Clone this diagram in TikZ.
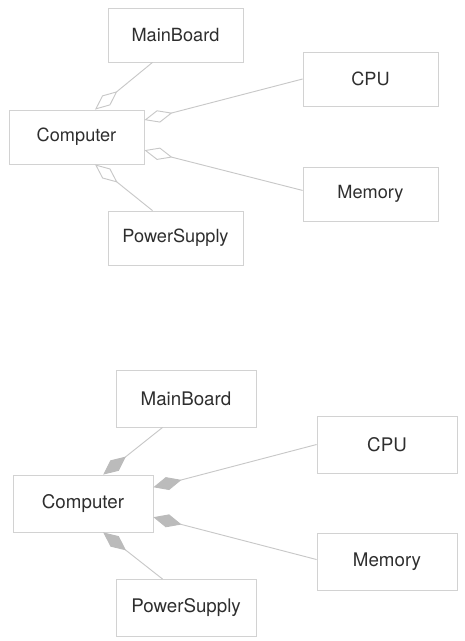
\documentclass[tikz,border=0pt]{standalone}
\usepackage{fontspec}
\setmainfont{TeX Gyre Heros}
\usetikzlibrary{arrows.meta}
\definecolor{linegray}{HTML}{C8C8C8}
\definecolor{boxgray}{HTML}{D2D2D2}
\definecolor{fillgray}{HTML}{BBBBBB}
\definecolor{textgray}{HTML}{2E2E2E}
\tikzset{
	part/.style={draw=boxgray, line width=0.7pt, text=textgray, minimum width=4.05cm, minimum height=1.62cm, font=\fontsize{15.5}{18}\selectfont},
	bigpart/.style={part, minimum width=4.2cm, minimum height=1.71cm, font=\fontsize{16}{19}\selectfont},
	aggropen/.style={draw=linegray, line width=0.8pt, {Diamond[open, length=0.87cm, width=0.38cm]}-},
	aggrfilled/.style={draw=linegray, line width=0.8pt, {Diamond[color=fillgray, fill=fillgray, length=0.87cm, width=0.4cm]}-}
}
\begin{document}
\begin{tikzpicture}
	\useasboundingbox (0,0) rectangle (13.95,-19.23);
	
	% open diamonds
	\node[part] (MainBoard) at (5.265,-1.05) {MainBoard};
	\node[part] (CPU) at (11.115,-2.37) {CPU};
	\node[part] (Computer) at (2.295,-4.11) {Computer};
	\node[part] (Memory) at (11.115,-5.82) {Memory};
	\node[part] (PowerSupply) at (5.265,-7.14) {PowerSupply};
	
	\draw[aggropen] (Computer.56) -- (MainBoard.230);
	\draw[aggropen] (Computer.14) -- (CPU.180);
	\draw[aggropen] (Computer.349) -- (Memory.177);
	\draw[aggropen] (Computer.304) -- (PowerSupply.130);
	
	% filled diamonds
	\node[bigpart] (MainBoard2) at (5.58,-11.955) {MainBoard};
	\node[bigpart] (CPU2) at (11.61,-13.335) {CPU};
	\node[bigpart] (Computer2) at (2.49,-15.105) {Computer};
	\node[bigpart] (Memory2) at (11.61,-16.86) {Memory};
	\node[bigpart] (PowerSupply2) at (5.58,-18.24) {PowerSupply};
	
	\draw[aggrfilled] (Computer2.55) -- (MainBoard2.231);
	\draw[aggrfilled] (Computer2.13.5) -- (CPU2.180);
	\draw[aggrfilled] (Computer2.349) -- (Memory2.178);
	\draw[aggrfilled] (Computer2.305) -- (PowerSupply2.129);
\end{tikzpicture}
\end{document}
